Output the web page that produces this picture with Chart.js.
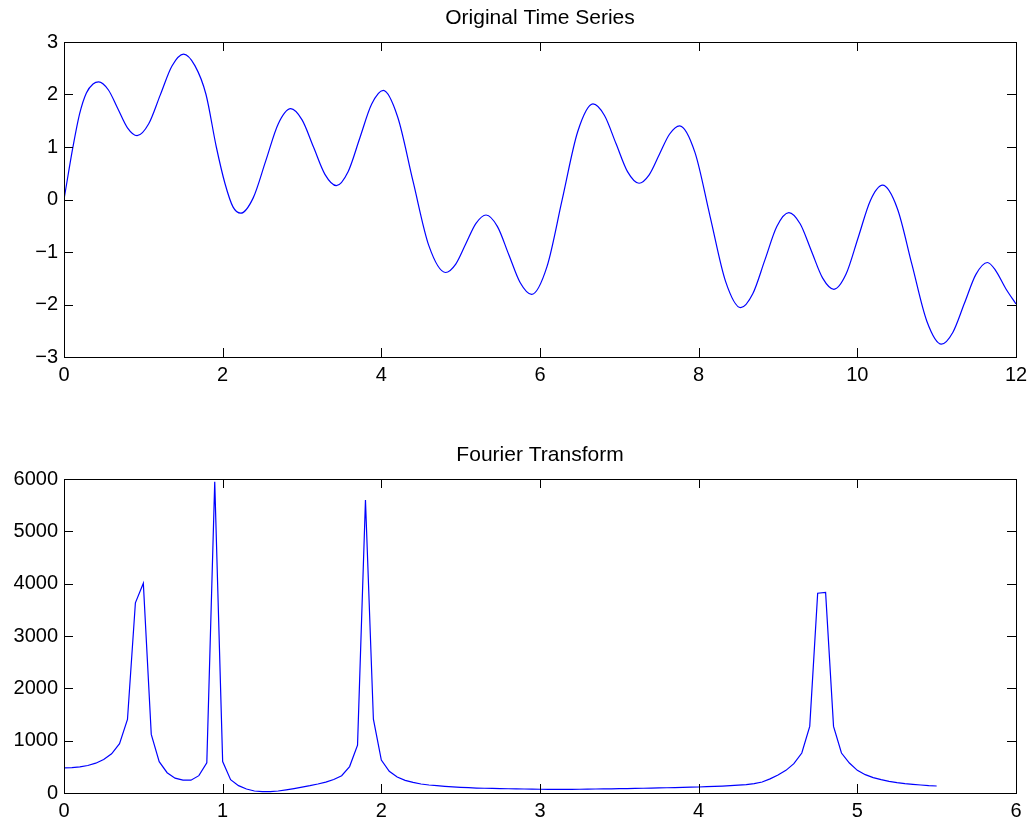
<!DOCTYPE html>
<html>
<head>
<meta charset="utf-8">
<script src="https://cdn.jsdelivr.net/npm/chart.js@4/dist/chart.umd.min.js"></script>
<style>
  body { margin: 0; background: #fff; }
  canvas { position: absolute; left: 0; }
  #top-chart { top: 0; }
  #bottom-chart { top: 412px; }
</style>
</head>
<body>
<canvas id="top-chart" width="1034" height="412"></canvas>
<canvas id="bottom-chart" width="1034" height="413"></canvas>
<script>
// time series
const timeX = [0, 0.114, 0.198, 0.282, 0.366, 0.437,
  0.558, 0.679, 0.80, 0.921,
  1.068, 1.214, 1.361, 1.507,
  1.65, 1.79, 1.92, 2.03, 2.13, 2.228,
  2.385, 2.543, 2.70, 2.857,
  3.001, 3.145, 3.289, 3.433,
  3.581, 3.729, 3.877, 4.025,
  4.206, 4.40, 4.60, 4.81,
  4.938, 5.065, 5.193, 5.32,
  5.464, 5.607, 5.751, 5.894,
  6.088, 6.281, 6.475, 6.668,
  6.813, 6.958, 7.103, 7.248,
  7.376, 7.504, 7.632, 7.76,
  7.953, 8.145, 8.338, 8.53,
  8.682, 8.834, 8.985, 9.137,
  9.279, 9.421, 9.563, 9.705,
  9.858, 10.012, 10.165, 10.318,
  10.504, 10.689, 10.875, 11.06,
  11.205, 11.35, 11.495, 11.64,
  11.74, 11.87, 12]
const timeY = [0, 1.01, 1.64, 2.03, 2.20, 2.24,
  2.09, 1.728, 1.365, 1.215,
  1.442, 1.993, 2.543, 2.77,
  2.55, 2.0, 1.0, 0.3, -0.14, -0.26,
  0.031, 0.735, 1.439, 1.73,
  1.516, 0.998, 0.479, 0.265,
  0.53, 1.172, 1.813, 2.078,
  1.572, 0.344, -0.884, -1.39,
  -1.23, -0.843, -0.455, -0.295,
  -0.516, -1.052, -1.587, -1.808,
  -1.278, 0.006, 1.29, 1.82,
  1.6, 1.065, 0.53, 0.31,
  0.47, 0.857, 1.243, 1.403,
  0.897, -0.329, -1.554, -2.06,
  -1.796, -1.155, -0.514, -0.25,
  -0.463, -0.98, -1.497, -1.71,
  -1.421, -0.719, -0.017, 0.272,
  -0.17, -1.242, -2.313, -2.755,
  -2.528, -1.978, -1.427, -1.2,
  -1.345, -1.695, -1.99]

// fourier magnitude
const freqX = [0, 0.05, 0.1, 0.15, 0.2, 0.25, 0.3, 0.35, 0.4, 0.45,
  0.5, 0.55, 0.6, 0.65, 0.7, 0.75, 0.8, 0.85, 0.9, 0.95,
  1, 1.05, 1.1, 1.15, 1.2, 1.25, 1.3, 1.35, 1.4, 1.45,
  1.5, 1.55, 1.6, 1.65, 1.7, 1.75, 1.8, 1.85, 1.9, 1.95,
  2, 2.05, 2.1, 2.15, 2.2, 2.25, 2.3, 2.35, 2.4, 2.45,
  2.5, 2.55, 2.6, 2.65, 2.7, 2.75, 2.8, 2.85, 2.9, 2.95,
  3, 3.05, 3.1, 3.15, 3.2, 3.25, 3.3, 3.35, 3.4, 3.45,
  3.5, 3.55, 3.6, 3.65, 3.7, 3.75, 3.8, 3.85, 3.9, 3.95,
  4, 4.05, 4.1, 4.15, 4.2, 4.25, 4.3, 4.35, 4.4, 4.45,
  4.5, 4.55, 4.6, 4.65, 4.7, 4.75, 4.8, 4.85, 4.9, 4.95,
  5, 5.05, 5.1, 5.15, 5.2, 5.25, 5.3, 5.35, 5.4, 5.45, 5.5]
const fftY = [480, 485, 498, 525, 570, 640, 748, 942, 1405, 3635,
  4009, 1120, 598, 388, 283, 245, 245, 331, 576, 5945,
  600, 255, 140, 76, 38, 25, 25, 38, 60, 85,
  112, 140, 172, 208, 258, 331, 505, 915, 5600, 1410,
  630, 414, 305, 242, 204, 172, 153, 140, 128, 118,
  108, 101, 95, 91, 87, 84, 81, 78, 76, 74,
  72, 71, 70, 70, 71, 72, 74, 76, 78, 80,
  83, 85, 88, 91, 94, 97, 100, 104, 107, 111,
  115, 121, 127, 133, 140, 149, 159, 178, 210, 270,
  344, 433, 560, 764, 1273, 3818, 3831, 1273, 764, 573,
  433, 350, 293, 255, 223, 197, 178, 165, 153, 140, 134]

const timeTicks = { min: 0, max: 12, step: 2 }
const timeRange = { min: -3, max: 3, step: 1 }
const freqTicks = { min: 0, max: 6, step: 1 }
const fftRange = { min: 0, max: 6000, step: 1000 }

Chart.defaults.font.family = '"Liberation Sans", Arial, Helvetica, sans-serif'
Chart.defaults.font.size = 20
Chart.defaults.color = '#000'

const toPoints = (xs, ys) => xs.map((x, i) => ({ x: x, y: ys[i] }))
const minus = v => String(v).replace('-', '\u2212')

// matlab style box with inward ticks on all sides
const boxTicks = {
  id: 'boxTicks',
  afterDraw(chart) {
    const { ctx, chartArea: a, scales: { x, y } } = chart
    const len = 9
    ctx.save()
    ctx.strokeStyle = '#000'
    ctx.lineWidth = 1
    ctx.beginPath()
    x.ticks.forEach(t => {
      const px = Math.round(x.getPixelForValue(t.value)) + 0.5
      ctx.moveTo(px, a.bottom); ctx.lineTo(px, a.bottom - len)
      ctx.moveTo(px, a.top); ctx.lineTo(px, a.top + len)
    })
    y.ticks.forEach(t => {
      const py = Math.round(y.getPixelForValue(t.value)) + 0.5
      ctx.moveTo(a.left, py); ctx.lineTo(a.left + len, py)
      ctx.moveTo(a.right, py); ctx.lineTo(a.right - len, py)
    })
    ctx.stroke()
    ctx.strokeRect(a.left + 0.5, a.top + 0.5, a.right - a.left, a.bottom - a.top)
    ctx.restore()
  }
}

function makeChart(el, title, points, xr, yr, smooth, padTop, xHeight) {
  return new Chart(el, {
    type: 'line',
    data: {
      datasets: [{
        data: points,
        borderColor: '#0000ff',
        borderWidth: 1.2,
        pointRadius: 0,
        fill: false,
        tension: 0,
        cubicInterpolationMode: smooth ? 'monotone' : 'default'
      }]
    },
    options: {
      responsive: false,
      animation: false,
      devicePixelRatio: 1,
      layout: { padding: { top: padTop, right: 18, left: 0, bottom: 0 } },
      plugins: {
        legend: { display: false },
        tooltip: { enabled: false },
        title: {
          display: true,
          text: title,
          fullSize: false, // centre over the plot box, not the canvas
          font: { size: 21, weight: 'normal' },
          padding: { top: 6, bottom: 10.8 }
        }
      },
      scales: {
        x: {
          type: 'linear',
          min: xr.min,
          max: xr.max,
          grid: { display: false, drawTicks: false },
          border: { display: false },
          ticks: { stepSize: xr.step, padding: 6, maxRotation: 0, callback: v => minus(v) },
          afterFit: s => { s.height = xHeight }
        },
        y: {
          min: yr.min,
          max: yr.max,
          grid: { display: false, drawTicks: false },
          border: { display: false },
          ticks: { stepSize: yr.step, padding: 6, callback: v => minus(v) },
          afterFit: s => { s.width = 64 }
        }
      }
    },
    plugins: [boxTicks]
  })
}

makeChart(document.getElementById('top-chart'), 'Original Time Series',
  toPoints(timeX, timeY), timeTicks, timeRange, true, 0, 55)
makeChart(document.getElementById('bottom-chart'), 'Fourier Transform',
  toPoints(freqX, fftY), freqTicks, fftRange, false, 25, 32)
</script>
</body>
</html>
